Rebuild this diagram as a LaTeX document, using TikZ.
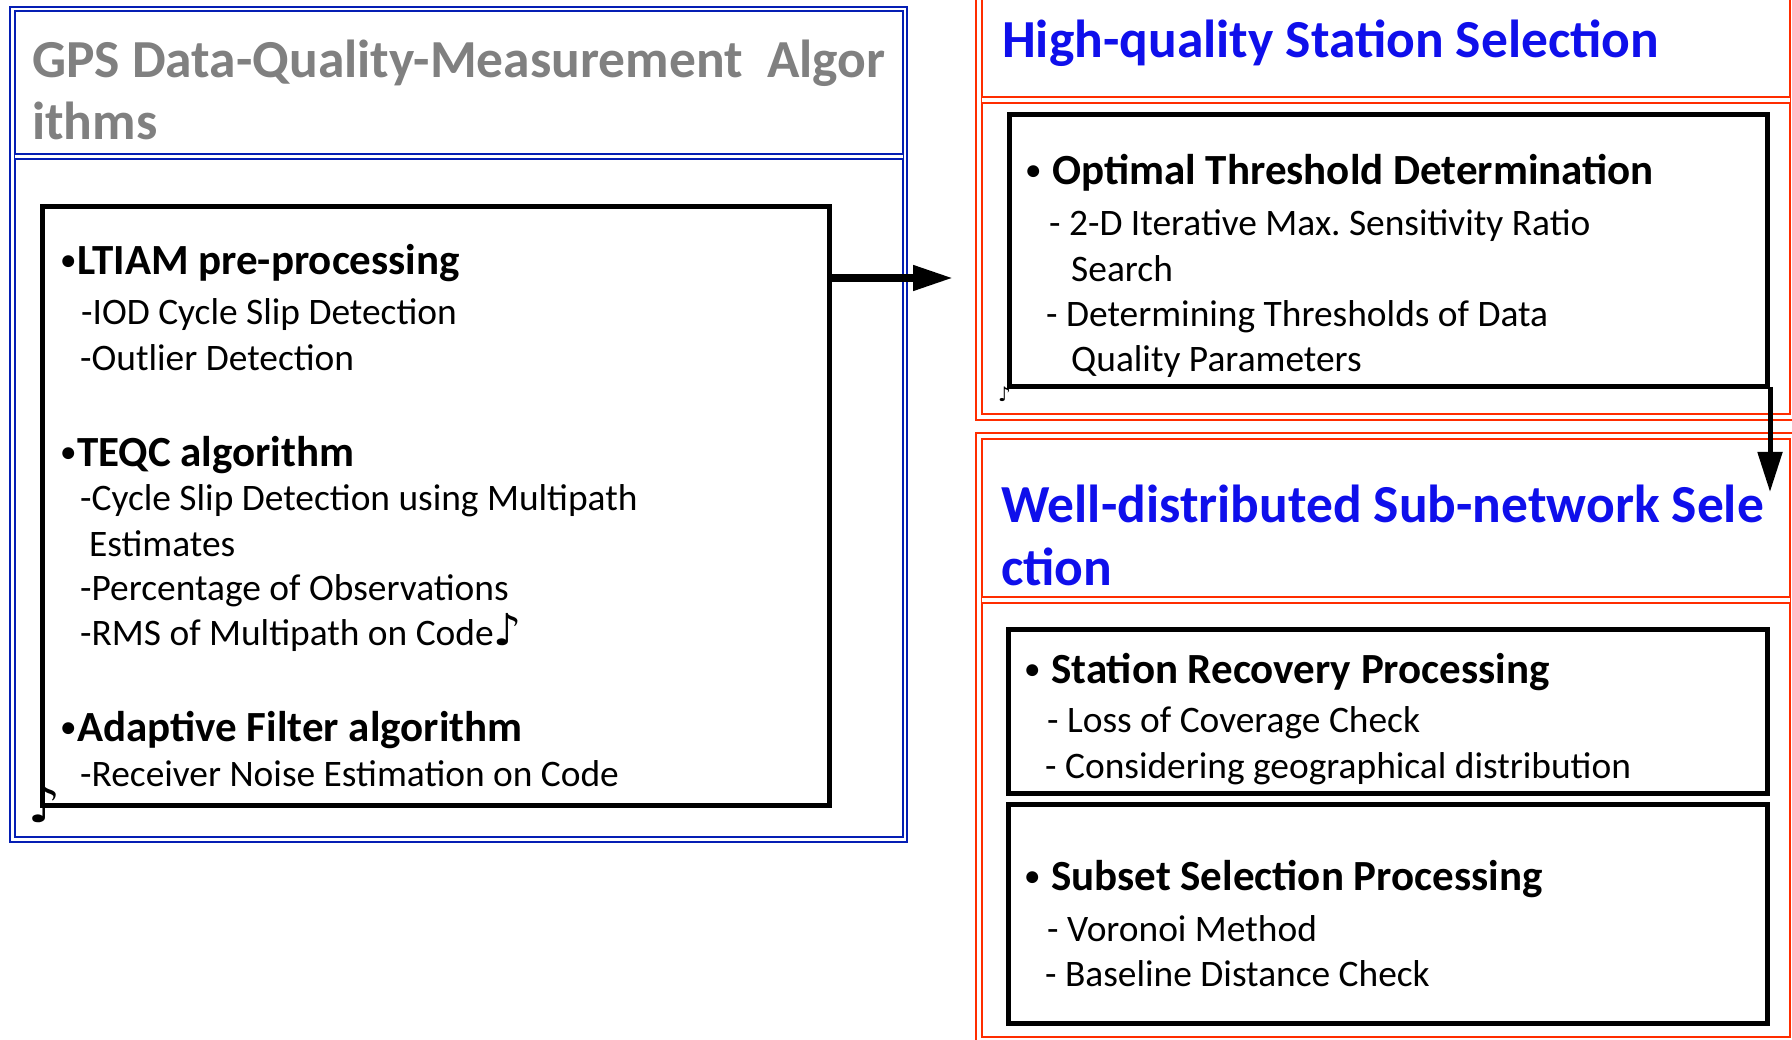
\documentclass[tikz,border=0pt]{standalone}
\usepackage{fontspec}
\setmainfont{Carlito}
\newfontfamily\notefont{DejaVu Sans}
\usetikzlibrary{arrows.meta}
\definecolor{frameblue}{RGB}{5,30,180}
\definecolor{framered}{RGB}{255,45,0}
\definecolor{headblue}{RGB}{15,15,235}
\definecolor{headgray}{RGB}{128,128,128}
\frenchspacing
% small bullet hung left of the item word
\newcommand{\itembul}[1]{\llap{\raisebox{5pt}{\fontsize{28}{28}\selectfont•}\hspace{#1}}}

\begin{document}
\begin{tikzpicture}[x=1pt,y=-1pt,
    blueframe/.style={draw=frameblue,double=white,line width=2.2pt,double distance=2.4pt},
    redframe/.style={draw=framered,double=white,line width=2pt,double distance=4pt},
    procbox/.style={draw,line width=5pt,inner sep=0pt,outer sep=0pt,anchor=north west},
    headtxt/.style={font=\fontsize{53.5}{62}\selectfont\bfseries,anchor=base west,inner sep=0pt},
    itemtxt/.style={font=\fontsize{43}{50}\selectfont\bfseries,anchor=base west,inner sep=0pt},
    subtxt/.style={font=\fontsize{37.4}{44}\selectfont,anchor=base west,inner sep=0pt},
    notetxt/.style={anchor=base west,inner sep=0pt},
    bigarrow/.style={-{Triangle[length=40pt,width=24pt]}}]
  \useasboundingbox (0,0) rectangle (1792,1040);
  \clip (0,0) rectangle (1792,1040);

  % frames
  \draw[blueframe] (12.5,9) rectangle (905,839.5);
  \draw[blueframe] (14.8,156.5) -- (902.7,156.5);
  \draw[redframe] (979,-10) rectangle (1793,417);
  \draw[redframe] (982,100) -- (1790,100);
  \draw[redframe] (979,436) rectangle (1793,1040);
  \draw[redframe] (982,600) -- (1790,600);

  % left column
  \node[headtxt,text=headgray] (gpsA) at (32,78) {GPS Data-Quality-Measurement\ \ Algor};
  \node[headtxt,text=headgray] (gpsB) at (32,140) {ithms};
  \node[procbox,minimum width=787,minimum height=598] (algbox) at (42.5,207) {};
  \node[itemtxt] (ltiam) at (77,275) {\itembul{2pt}LTIAM pre-processing};
  \node[subtxt] (iod) at (81,325) {-IOD Cycle Slip Detection};
  \node[subtxt] (outl) at (80,371) {-Outlier Detection};
  \node[itemtxt] (teqc) at (77,467) {\itembul{2pt}TEQC algorithm};
  \node[subtxt] (cyc) at (80,511) {-Cycle Slip Detection using Multipath};
  \node[subtxt] (est) at (89,556) {Estimates};
  \node[subtxt] (perc) at (80,600) {-Percentage of Observations};
  \node[subtxt] (rms) at (80,645) {-RMS of Multipath on Code{\notefont\fontsize{44}{44}\selectfont ♪}};
  \node[itemtxt] (adapt) at (77,741) {\itembul{2pt}Adaptive Filter algorithm};
  \node[subtxt] (recv) at (80,786) {-Receiver Noise Estimation on Code};
  \node[notetxt,font=\notefont\fontsize{50}{50}\selectfont] (algnote) at (28,822) {♪};

  % high-quality station selection
  \node[headtxt,text=headblue] (hqtitle) at (1002,58) {High-quality Station Selection};
  \node[procbox,minimum width=758.5,minimum height=272] (optbox) at (1009,115) {};
  \node[itemtxt] (opt) at (1052,185) {\itembul{12pt}Optimal Threshold Determination};
  \node[subtxt] (iter) at (1049,236) {- 2-D Iterative Max. Sensitivity Ratio};
  \node[subtxt] (srch) at (1071,282) {Search};
  \node[subtxt] (detm) at (1046,327) {- Determining Thresholds of Data};
  \node[subtxt] (qpar) at (1071,372) {Quality Parameters};
  \node[notetxt,font=\notefont\fontsize{20}{20}\selectfont] (optnote) at (998,402) {♪};

  % well-distributed sub-network selection
  \node[headtxt,text=headblue] (wdA) at (1001,522) {Well-distributed Sub-network Sele};
  \node[headtxt,text=headblue] (wdB) at (1001,585) {ction};
  \node[procbox,minimum width=759,minimum height=164] (recbox) at (1008,629) {};
  \node[procbox,minimum width=759,minimum height=219] (subbox) at (1008,804) {};
  \node[itemtxt] (recov) at (1051,683) {\itembul{12pt}Station Recovery Processing};
  \node[subtxt] (loss) at (1047,732) {- Loss of Coverage Check};
  \node[subtxt] (geo) at (1045,778) {- Considering geographical distribution};
  \node[itemtxt] (subset) at (1051,890) {\itembul{12pt}Subset Selection Processing};
  \node[subtxt] (voro) at (1047,941) {- Voronoi Method};
  \node[subtxt] (basel) at (1045,986) {- Baseline Distance Check};

  % arrows
  \coordinate (rtTip) at (953,278);
  \coordinate (dnTip) at (1770,492);
  \draw[bigarrow,line width=7.5pt] (algbox.east |- rtTip) -- (rtTip);
  \draw[bigarrow,line width=5pt] (optbox.south east -| dnTip) -- (dnTip);
\end{tikzpicture}
\end{document}
